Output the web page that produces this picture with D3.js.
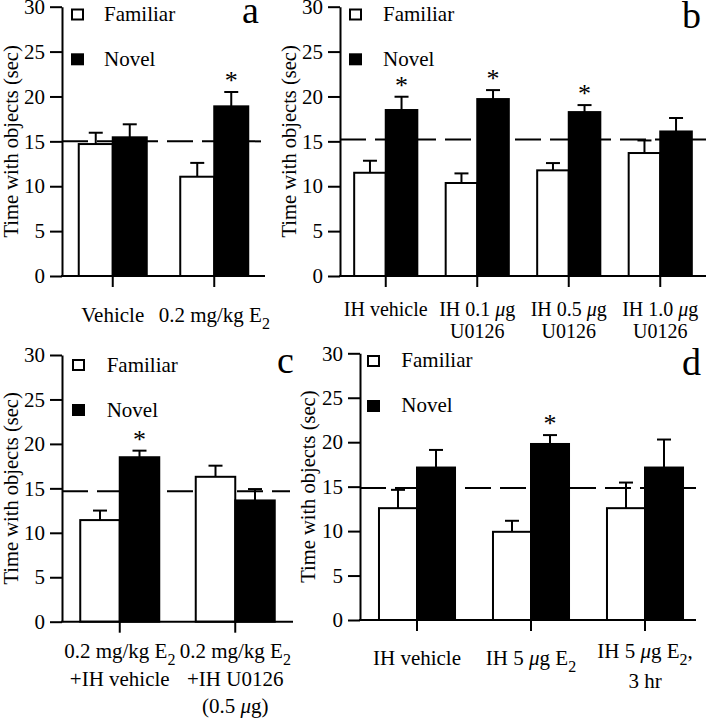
<!DOCTYPE html>
<html><head><meta charset="utf-8">
<script src="https://cdn.jsdelivr.net/npm/d3@7"></script>
<style>
body{margin:0;background:#fff}
svg{display:block}
text{font-family:"Liberation Serif","Times New Roman",serif;fill:#000}
</style>
</head><body>
<svg id="chart" width="706" height="720"></svg>
<script>
// ---------- shared ----------
const yTicks = [0, 5, 10, 15, 20, 25, 30];
const seriesNames = ["Familiar", "Novel"];
const axisTitle = "Time with objects (sec)";

// ---------- panel a ----------
const aCategories = [["Vehicle"], ["0.2 mg/kg E_2"]];
const aFamiliar = [14.7, 11.06];
const aFamiliarErr = [1.26, 1.54];
const aNovel = [15.45, 18.9];
const aNovelErr = [1.45, 1.6];
const aSignificant = [false, true];
const aChance = 15.0;

// ---------- panel b ----------
const bCategories = [["IH vehicle"], ["IH 0.1 μg", "U0126"], ["IH 0.5 μg", "U0126"], ["IH 1.0 μg", "U0126"]];
const bFamiliar = [11.5, 10.36, 11.77, 13.7];
const bFamiliarErr = [1.34, 1.07, 0.81, 1.4];
const bNovel = [18.49, 19.71, 18.26, 16.1];
const bNovelErr = [1.48, 1.0, 0.78, 1.5];
const bSignificant = [true, true, true, false];
const bChance = 15.2;

// ---------- panel c ----------
const cCategories = [["0.2 mg/kg E_2", "+IH vehicle"], ["0.2 mg/kg E_2", "+IH U0126", "(0.5 μg)"]];
const cFamiliar = [11.43, 16.3];
const cFamiliarErr = [1.07, 1.25];
const cNovel = [18.5, 13.64];
const cNovelErr = [0.74, 1.28];
const cSignificant = [true, false];
const cChance = 14.66;

// ---------- panel d ----------
const dCategories = [["IH vehicle"], ["IH 5 μg E_2"], ["IH 5 μg E_2,", "3 hr"]];
const dFamiliar = [12.58, 9.92, 12.58];
const dFamiliarErr = [2.06, 1.24, 2.88];
const dNovel = [17.15, 19.8, 17.15];
const dNovelErr = [1.98, 1.0, 3.15];
const dSignificant = [false, true, false];
const dChance = 14.85;

const panels = [
  {letter: "a", cats: aCategories, fam: aFamiliar, famErr: aFamiliarErr, nov: aNovel, novErr: aNovelErr, sig: aSignificant, chance: aChance},
  {letter: "b", cats: bCategories, fam: bFamiliar, famErr: bFamiliarErr, nov: bNovel, novErr: bNovelErr, sig: bSignificant, chance: bChance},
  {letter: "c", cats: cCategories, fam: cFamiliar, famErr: cFamiliarErr, nov: cNovel, novErr: cNovelErr, sig: cSignificant, chance: cChance},
  {letter: "d", cats: dCategories, fam: dFamiliar, famErr: dFamiliarErr, nov: dNovel, novErr: dNovelErr, sig: dSignificant, chance: dChance}
];

// ---------- layout (positions only) ----------
const layouts = {
  a: {x0: 62, x1: 265, axisEnd: 265, dashEnd: 261, yBottom: 276, yTop: 6.7, pad: 0.33,
      labelY: 322, lineH: 20, labelSize: 21, singleShift: 0, titleX: 18,
      legend: {sx: 72, sy: 9.5, tx: 104, ty: 20.7, gap: 44.8}, letterPos: [242, 23]},
  b: {x0: 340, x1: 706, axisEnd: 706, dashEnd: 706, yBottom: 276, yTop: 6.7, pad: 0.31,
      labelY: 315.5, lineH: 22.5, labelSize: 20, singleShift: 0, titleX: 296,
      legend: {sx: 350, sy: 9.5, tx: 383, ty: 20.7, gap: 44.8}, letterPos: [682, 28]},
  c: {x0: 62, x1: 293, axisEnd: 293, dashEnd: 290, yBottom: 621.7, yTop: 355, pad: 0.316,
      labelY: 658, lineH: 27.5, labelSize: 21, singleShift: 0, titleX: 18,
      legend: {sx: 73, sy: 360, tx: 106.7, ty: 371.7, gap: 45}, letterPos: [277, 373]},
  d: {x0: 360, x1: 702, axisEnd: 696, dashEnd: 696, yBottom: 620, yTop: 353.3, pad: 0.333,
      labelY: 658, lineH: 30, labelSize: 21, singleShift: 7, titleX: 315,
      legend: {sx: 368, sy: 356, tx: 401.3, ty: 366.7, gap: 45}, letterPos: [682, 375]}
};

const svg = d3.select("#chart");
const FONT = '"Liberation Serif","Times New Roman",serif';

function richText(sel, str) {
  const parts = str.split(/(_\d|μ)/).filter(s => s.length);
  let shifted = false;
  parts.forEach(part => {
    const t = sel.append("tspan");
    if (part.startsWith("_")) {
      t.text(part.slice(1)).attr("font-size", 16).attr("dy", 7);
      shifted = true;
    } else {
      if (shifted) { t.attr("dy", -7); shifted = false; }
      t.text(part);
      if (part === "μ") t.attr("font-style", "italic");
    }
  });
}

function drawPanel(p) {
  const L = layouts[p.letter];
  const g = svg.append("g");
  const idx = d3.range(p.cats.length);
  const x = d3.scaleBand().domain(idx).range([L.x0, L.x1]).paddingInner(L.pad).paddingOuter(L.pad / 2);
  const xs = d3.scaleBand().domain(seriesNames).range([0, x.bandwidth()]);
  const y = d3.scaleLinear().domain([0, 30]).range([L.yBottom, L.yTop]);

  // chance (dashed) line behind bars
  g.append("line")
    .attr("x1", L.x0).attr("x2", L.dashEnd)
    .attr("y1", y(p.chance)).attr("y2", y(p.chance))
    .attr("stroke", "#000").attr("stroke-width", 2).attr("stroke-dasharray", "26,9");

  const rows = [];
  idx.forEach(i => {
    rows.push({i, s: "Familiar", v: p.fam[i], e: p.famErr[i], sig: false});
    rows.push({i, s: "Novel", v: p.nov[i], e: p.novErr[i], sig: p.sig[i]});
  });
  const cx = d => x(d.i) + xs(d.s) + xs.bandwidth() / 2;

  // error bars (upper only)
  const eb = g.selectAll(".eb").data(rows).enter().append("g");
  eb.append("line")
    .attr("x1", cx).attr("x2", cx)
    .attr("y1", d => y(d.v)).attr("y2", d => y(d.v + d.e))
    .attr("stroke", "#000").attr("stroke-width", 2);
  eb.append("line")
    .attr("x1", d => cx(d) - 7).attr("x2", d => cx(d) + 7)
    .attr("y1", d => y(d.v + d.e)).attr("y2", d => y(d.v + d.e))
    .attr("stroke", "#000").attr("stroke-width", 2);

  // bars
  g.selectAll(".bar").data(rows).enter().append("rect")
    .attr("x", d => x(d.i) + xs(d.s))
    .attr("width", xs.bandwidth())
    .attr("y", d => y(d.v))
    .attr("height", d => y(0) - y(d.v))
    .attr("fill", d => d.s === "Familiar" ? "#fff" : "#000")
    .attr("stroke", "#000").attr("stroke-width", 2);

  // significance stars
  g.selectAll(".star").data(rows.filter(d => d.sig)).enter().append("text")
    .attr("x", cx)
    .attr("y", d => y(d.v + d.e) - 3)
    .attr("text-anchor", "middle").attr("font-size", 26)
    .text("*");

  // y axis
  const ya = g.append("g").attr("transform", `translate(${L.x0},0)`)
    .call(d3.axisLeft(y).tickValues(yTicks).tickSize(12).tickPadding(5).tickSizeOuter(0));
  ya.attr("font-family", FONT).attr("font-size", 21);
  ya.selectAll("path,line").attr("stroke-width", 2);

  // x axis
  const xa = g.append("g").attr("transform", `translate(0,${y(0)})`)
    .call(d3.axisBottom(x).tickSize(11).tickFormat(""));
  xa.select(".domain").remove();
  xa.selectAll("line").attr("stroke-width", 2);
  g.append("line").attr("x1", L.x0 - 1).attr("x2", L.axisEnd)
    .attr("y1", y(0)).attr("y2", y(0)).attr("stroke", "#000").attr("stroke-width", 2);

  // category labels
  idx.forEach(i => {
    const lines = p.cats[i];
    const base = L.labelY + (lines.length === 1 ? L.singleShift : 0);
    lines.forEach((ln, k) => {
      const t = g.append("text")
        .attr("x", x(i) + x.bandwidth() / 2)
        .attr("y", base + k * L.lineH)
        .attr("text-anchor", "middle").attr("font-size", L.labelSize);
      richText(t, ln);
    });
  });

  // axis title
  g.append("text")
    .attr("transform", `translate(${L.titleX},${(L.yBottom + L.yTop) / 2}) rotate(-90)`)
    .attr("text-anchor", "middle").attr("font-size", 20.5)
    .text(axisTitle);

  // legend
  seriesNames.forEach((s, k) => {
    g.append("rect")
      .attr("x", L.legend.sx).attr("y", L.legend.sy + k * L.legend.gap)
      .attr("width", 11).attr("height", 10)
      .attr("fill", s === "Familiar" ? "#fff" : "#000")
      .attr("stroke", "#000").attr("stroke-width", 2);
    g.append("text")
      .attr("x", L.legend.tx).attr("y", L.legend.ty + k * L.legend.gap)
      .attr("font-size", 21).text(s);
  });

  // panel letter
  g.append("text").attr("x", L.letterPos[0]).attr("y", L.letterPos[1])
    .attr("font-size", 38).text(p.letter);
}

panels.forEach(drawPanel);
</script>
</body></html>
